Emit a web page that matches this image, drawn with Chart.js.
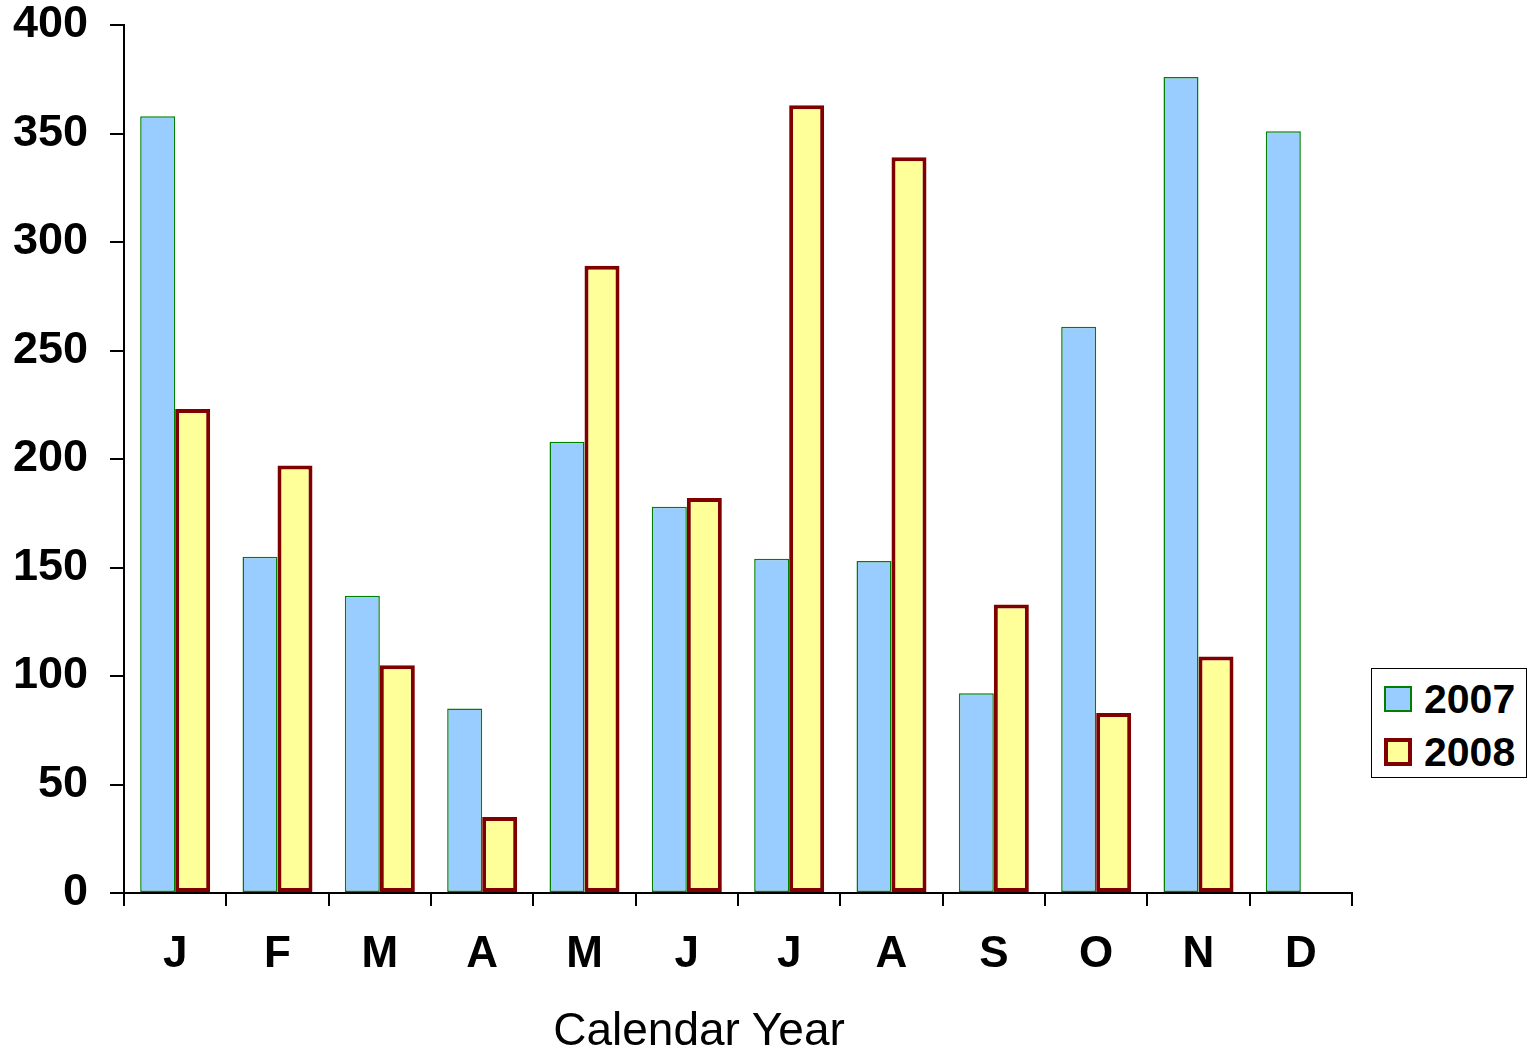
<!DOCTYPE html>
<html>
<head>
<meta charset="utf-8">
<script src="https://cdn.jsdelivr.net/npm/chart.js@4"></script>
<style>
  html, body { margin: 0; padding: 0; background: #fff; }
  #wrap { position: relative; width: 1534px; height: 1054px; font-family: 'Liberation Sans', Arial, sans-serif; color: #000; }
  #chart { position: absolute; left: 0; top: 0; }
  #xtitle { position: absolute; left: 699px; top: 1006px; transform: translateX(-50%); font-size: 46px; line-height: 46px; white-space: nowrap; }
  #legend { position: absolute; left: 1371px; top: 668px; width: 156px; height: 110px; box-sizing: border-box; border: 1px solid #000; background: #fff; }
  .swatch { position: absolute; left: 12px; width: 28px; box-sizing: border-box; }
  .ltext { position: absolute; left: 52px; font-size: 41px; font-weight: bold; line-height: 41px; }
</style>
</head>
<body>
<div id="wrap">
  <canvas id="chart" width="1534" height="1054"></canvas>
  <div id="xtitle"></div>
  <div id="legend"></div>
</div>
<script>
// Monthly totals, two calendar years
const months = ['J', 'F', 'M', 'A', 'M', 'J', 'J', 'A', 'S', 'O', 'N', 'D'];
const seriesNames = ['2007', '2008'];
const values2007 = [358, 155, 137, 85, 208, 178, 154, 153, 92, 261, 376, 351];
const values2008 = [223, 197, 105, 35, 289, 182, 363, 339, 133, 83, 109, null];
const yMin = 0;
const yMax = 400;
const yStep = 50;
const xTitle = 'Calendar Year';

const FONT = "'Liberation Sans', Arial, sans-serif";

const styles = [
  { fill: '#99CCFF', border: '#008000', width: 1.5 },
  { fill: '#FFFF99', border: '#800000', width: 4 }
];

const chart = new Chart(document.getElementById('chart'), {
  type: 'bar',
  data: {
    labels: months,
    datasets: [
      {
        label: seriesNames[0],
        data: values2007,
        backgroundColor: styles[0].fill,
        borderColor: styles[0].border,
        borderWidth: styles[0].width,
        borderSkipped: false
      },
      {
        label: seriesNames[1],
        data: values2008,
        backgroundColor: styles[1].fill,
        borderColor: styles[1].border,
        borderWidth: styles[1].width,
        borderSkipped: false
      }
    ]
  },
  options: {
    responsive: false,
    animation: false,
    datasets: { bar: { categoryPercentage: 0.684, barPercentage: 1.0 } },
    layout: { autoPadding: false, padding: { top: 25, right: 182, left: 0, bottom: 0 } },
    plugins: { legend: { display: false }, tooltip: { enabled: false } },
    scales: {
      x: {
        offset: true,
        grid: { offset: true, drawOnChartArea: false, drawTicks: true, tickLength: 13, color: '#000', lineWidth: 2 },
        border: { display: true, color: '#000', width: 2 },
        ticks: { color: '#000', padding: 22, font: { family: FONT, size: 44, weight: 'bold' }, maxRotation: 0, autoSkip: false },
        afterFit: (s) => { s.height = 161; s.paddingLeft = 0; s.paddingRight = 0; }
      },
      y: {
        min: yMin,
        max: yMax,
        grid: { drawOnChartArea: false, drawTicks: true, tickLength: 14, color: '#000', lineWidth: 2 },
        border: { display: true, color: '#000', width: 2 },
        ticks: { stepSize: yStep, color: '#000', padding: 22, font: { family: FONT, size: 45, weight: 'bold' } },
        afterFit: (s) => { s.width = 124; s.paddingTop = 0; s.paddingBottom = 0; }
      }
    }
  }
});

// Axis title and boxed legend
document.getElementById('xtitle').textContent = xTitle;
const legend = document.getElementById('legend');
const rows = [{ swTop: 17, swH: 26, txtTop: 10 }, { swTop: 69, swH: 28, txtTop: 63 }];
chart.data.datasets.forEach((ds, i) => {
  const sw = document.createElement('div');
  sw.className = 'swatch';
  sw.style.top = rows[i].swTop + 'px';
  sw.style.height = rows[i].swH + 'px';
  sw.style.background = ds.backgroundColor;
  sw.style.border = (i === 0 ? 2 : 4) + 'px solid ' + ds.borderColor;
  legend.appendChild(sw);
  const t = document.createElement('div');
  t.className = 'ltext';
  t.style.top = rows[i].txtTop + 'px';
  t.textContent = ds.label;
  legend.appendChild(t);
});
</script>
</body>
</html>
